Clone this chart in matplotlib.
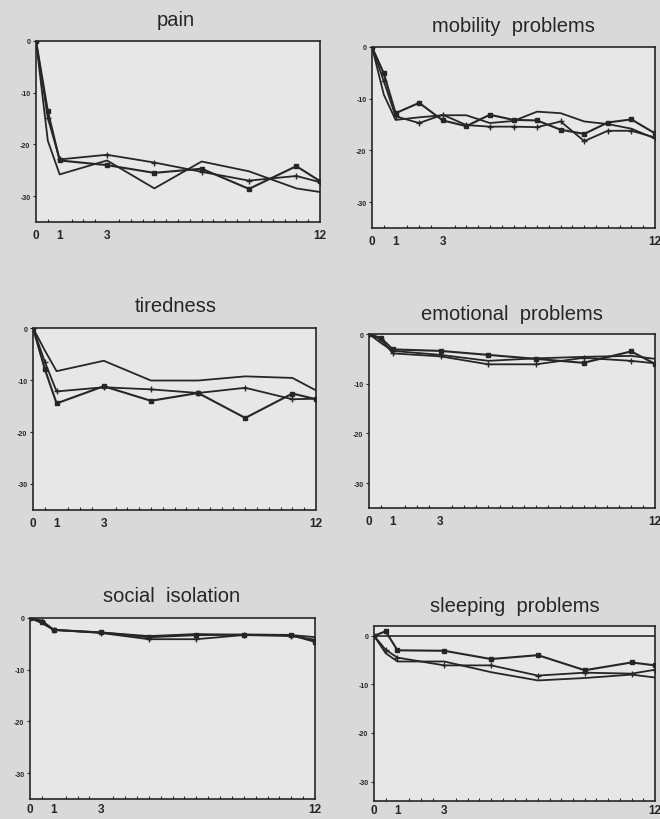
import matplotlib
matplotlib.use("Agg")
import matplotlib.pyplot as plt
from matplotlib.ticker import MultipleLocator

plt.rcParams['font.family'] = ['Liberation Sans', 'DejaVu Sans']

# months after start
x_sparse = [0, 0.5, 1, 3, 5, 7, 9, 11, 12]
x_monthly = [0, 0.5, 1, 2, 3, 4, 5, 6, 7, 8, 9, 10, 11, 12]

# pain
pain_dot = [0, -13.6, -23.1, -24.0, -25.5, -24.7, -28.6, -24.2, -27.1]
pain_plus = [0, -14.9, -22.9, -22.0, -23.5, -25.3, -27.0, -26.1, -27.3]
pain_line = [0, -19.3, -25.8, -23.1, -28.5, -23.3, -25.2, -28.5, -29.2]

# mobility problems
mob_dot = [0, -5.1, -12.8, -10.8, -14.2, -15.3, -13.1, -14.1, -14.2, -16.0, -16.8, -14.6, -14.0, -16.7]
mob_plus = [0, -6.6, -13.4, -14.7, -13.1, -15.1, -15.4, -15.4, -15.5, -14.4, -18.2, -16.2, -16.2, -17.5]
mob_line = [0, -9.2, -14.1, -13.6, -13.2, -13.2, -14.7, -14.3, -12.5, -12.8, -14.4, -14.9, -15.8, -17.7]

# tiredness
tired_dot = [0, -7.9, -14.5, -11.2, -14.0, -12.5, -17.3, -12.6, -13.7]
tired_plus = [0, -6.5, -12.2, -11.4, -11.8, -12.5, -11.5, -13.7, -13.6]
tired_line = [0, -4.3, -8.3, -6.3, -10.1, -10.1, -9.3, -9.6, -12.0]

# emotional problems
emo_dot = [0, -0.8, -3.1, -3.4, -4.2, -5.0, -5.8, -3.5, -6.0]
emo_plus = [0, -1.1, -3.9, -4.5, -6.1, -6.1, -4.8, -5.4, -5.9]
emo_line = [0, -1.8, -3.4, -4.2, -5.4, -4.9, -4.6, -4.4, -5.0]

# social isolation
soc_dot = [0, -0.7, -2.3, -2.8, -3.7, -3.3, -3.2, -3.3, -4.6]
soc_plus = [0, -0.5, -2.3, -2.9, -4.1, -4.1, -3.3, -3.5, -4.2]
soc_line = [0, -1.0, -2.3, -2.8, -3.5, -3.1, -3.3, -3.3, -3.7]

# sleeping problems
sleep_dot = [0, 0.9, -3.0, -3.1, -4.8, -4.0, -7.1, -5.5, -6.1]
sleep_plus = [0, -2.9, -4.5, -6.1, -6.1, -8.2, -7.6, -7.8, -7.0]
sleep_line = [0, -3.6, -5.3, -5.3, -7.5, -9.2, -8.7, -8.0, -8.6]

panels = [
    # title, x, series, axes rect (px: left, top, right, bottom), title centre (px), ylim, label pad
    ("pain", x_sparse, (pain_dot, pain_plus, pain_line), (36, 42, 320, 223), (176, 20), (-35, 0), 5),
    ("mobility  problems", x_monthly, (mob_dot, mob_plus, mob_line), (372, 48, 655, 229), (513, 27), (-35, 0), 5),
    ("tiredness", x_sparse, (tired_dot, tired_plus, tired_line), (33, 329, 316, 511), (176, 307), (-35, 0), 5),
    ("emotional  problems", x_sparse, (emo_dot, emo_plus, emo_line), (369, 335, 655, 509), (512, 315), (-35, 0), 5),
    ("social  isolation", x_sparse, (soc_dot, soc_plus, soc_line), (30, 619, 315, 800), (172, 597), (-35, 0), 3),
    ("sleeping  problems", x_sparse, (sleep_dot, sleep_plus, sleep_line), (374, 627, 655, 802), (515, 607), (-34, 2), 2),
]

W, H = 660, 820
ink = '#262626'
fig = plt.figure(figsize=(W / 100, H / 100), dpi=100)
fig.patch.set_facecolor('#d9d9d9')

for title, xs, (s_dot, s_plus, s_line), (l, t, r, b), (tx, ty), ylim, pad in panels:
    ax = fig.add_axes([l / W, 1 - b / H, (r - l) / W, (b - t) / H])
    ax.set_facecolor('#e7e7e7')
    ax.plot(xs, s_line, color=ink, lw=1.3)
    ax.plot(xs, s_plus, color=ink, lw=1.3, marker='+', ms=5, mew=1.0)
    ax.plot(xs, s_dot, color=ink, lw=1.5, marker='s', ms=3.2)
    if ylim[1] > 0:
        ax.axhline(0, color=ink, lw=1.2)
    ax.set_xlim(0, 12)
    ax.set_ylim(*ylim)
    ax.set_xticks([0, 1, 3, 12])
    ax.xaxis.set_minor_locator(MultipleLocator(0.5))
    ax.set_yticks([0, -10, -20, -30])
    ax.set_yticklabels(['0', '-10', '-20', '-30'], fontsize=5, fontweight='bold', color=ink)
    ax.tick_params(axis='x', which='major', length=0, pad=pad, labelsize=8.5, labelcolor=ink)
    ax.tick_params(axis='x', which='minor', direction='in', length=2.5, width=0.8, color=ink)
    ax.tick_params(axis='y', length=2, width=0.8, pad=2, color=ink)
    for lab in ax.get_xticklabels():
        lab.set_fontweight('bold')
    for sp in ax.spines.values():
        sp.set_color(ink)
        sp.set_linewidth(1.2)
    fig.text(tx / W, 1 - ty / H, title, ha='center', va='center', fontsize=14.5, color=ink)

fig.savefig('out.png', dpi=100, facecolor=fig.get_facecolor())
